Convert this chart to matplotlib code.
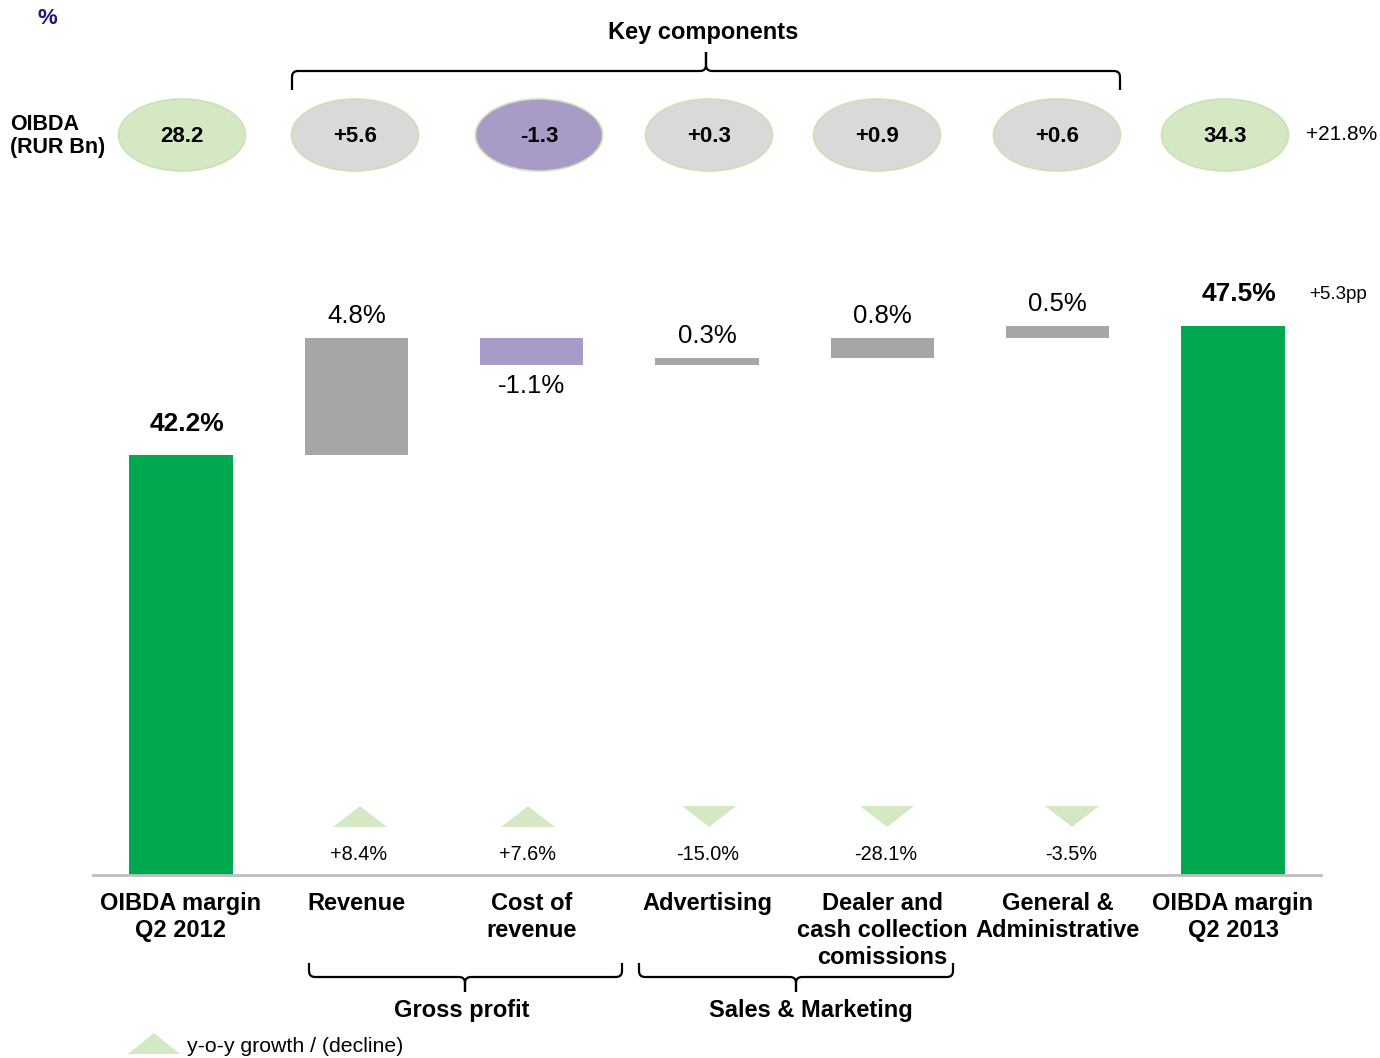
import matplotlib
matplotlib.use("Agg")
import matplotlib.pyplot as plt
import numpy as np
from matplotlib.patches import Ellipse, Polygon, PathPatch
from matplotlib.path import Path

plt.rcParams.update({
    "font.family": "sans-serif",
    "font.sans-serif": ["Liberation Sans", "DejaVu Sans"],
})

# ------------------------------------------------------------
# Data
# ------------------------------------------------------------
categories = [
    'OIBDA margin\nQ2 2012', 'Revenue', 'Cost of\nrevenue', 'Advertising',
    'Dealer and\ncash collection\ncomissions', 'General &\nAdministrative',
    'OIBDA margin\nQ2 2013'
]
margin_start = 42.2
margin_deltas = [4.8, -1.1, 0.3, 0.8, 0.5]
margin_end = 47.5
margin_change = '+5.3pp'

oibda = [28.2, 5.6, -1.3, 0.3, 0.9, 0.6, 34.3]
oibda_growth = '+21.8%'

yoy_growth = [8.4, 7.6, -15.0, -28.1, -3.5]

# ------------------------------------------------------------
# Colours
# ------------------------------------------------------------
GREEN = '#00a84f'
GREY = '#a6a6a6'
PURPLE = '#a99bc7'
LIGHT_GREEN = '#d5e8c4'
LIGHT_GREY = '#d9d9d9'

W, H = 1380, 1058
fig = plt.figure(figsize=(W / 100, H / 100), dpi=100)

# ------------------------------------------------------------
# Waterfall axes (the upper part of the scale is stretched so the
# small components stay readable)
# ------------------------------------------------------------
stretch = 2.44


def fwd(y):
    y = np.asarray(y, dtype=float)
    return np.where(y <= margin_start, y, margin_start + (y - margin_start) * stretch)


def inv(f):
    f = np.asarray(f, dtype=float)
    return np.where(f <= margin_start, f, margin_start + (f - margin_start) / stretch)


y_top = 50
px_unit = 420 / margin_start
ax_h = fwd(y_top) * px_unit
ax = fig.add_axes([93.3 / W, (H - 875) / H, 1227.4 / W, ax_h / H])
ax.set_yscale('function', functions=(fwd, inv))
ax.set_xlim(-0.5, 6.5)
ax.set_ylim(0, y_top)

x = np.arange(len(categories))
width = 0.59

# totals
ax.bar(x[0], margin_start, width, color=GREEN, zorder=2)
ax.bar(x[-1], margin_end, width, color=GREEN, zorder=2)
ax.annotate(f'{margin_start:.1f}%', (x[0], margin_start), xytext=(4, 22),
            textcoords='offset points', ha='center', va='center',
            fontsize=19, fontweight='bold')
ax.annotate(f'{margin_end:.1f}%', (x[-1], margin_end), xytext=(4, 23),
            textcoords='offset points', ha='center', va='center',
            fontsize=19, fontweight='bold')
ax.annotate(margin_change, (x[-1], margin_end), xytext=(55, 23),
            textcoords='offset points', ha='left', va='center', fontsize=13.5)

# components
level = margin_start
for i, d in enumerate(margin_deltas):
    xi = x[i + 1]
    bottom = level if d >= 0 else level + d
    ax.bar(xi, abs(d), width, bottom=bottom,
           color=GREY if d >= 0 else PURPLE, zorder=2)
    if d >= 0:
        ax.annotate(f'{d:.1f}%', (xi, level + d), xytext=(0, 16),
                    textcoords='offset points', ha='center', va='center',
                    fontsize=18.5)
    else:
        ax.annotate(f'{d:.1f}%', (xi, level + d), xytext=(0, -15),
                    textcoords='offset points', ha='center', va='center',
                    fontsize=18.5)
    level += d

ax.axhline(0, color='#bfbfbf', lw=2, zorder=3, clip_on=False)

ax.set_xticks(x)
ax.set_xticklabels(categories, fontsize=17, fontweight='bold')
for lab in ax.get_xticklabels():
    lab.set_linespacing(1.22)
ax.tick_params(axis='x', length=0, pad=12.5)
ax.set_yticks([])
ax.yaxis.set_minor_locator(matplotlib.ticker.NullLocator())
for s in ax.spines.values():
    s.set_visible(False)
ax.patch.set_alpha(0)

# ------------------------------------------------------------
# Overlay in pixel coordinates for ellipses, braces and markers
# ------------------------------------------------------------
deco = fig.add_axes([0, 0, 1, 1], zorder=5)
deco.set_xlim(0, W)
deco.set_ylim(H, 0)
deco.axis('off')
deco.patch.set_alpha(0)


def brace(x0, x1, xm, y, h_end, h_tip, r=6, down=True):
    # ends bend toward +s, the tip points toward -s (pixel y grows downward)
    s = 1 if down else -1
    verts = [
        (x0, y + s * h_end), (x0, y + s * r), (x0, y), (x0 + r, y),
        (xm - r, y), (xm, y), (xm, y - s * r), (xm, y - s * h_tip),
        (xm, y - s * r), (xm, y), (xm + r, y),
        (x1 - r, y), (x1, y), (x1, y + s * r), (x1, y + s * h_end),
    ]
    codes = [Path.MOVETO, Path.LINETO, Path.CURVE3, Path.CURVE3,
             Path.LINETO, Path.CURVE3, Path.CURVE3, Path.LINETO,
             Path.LINETO, Path.CURVE3, Path.CURVE3,
             Path.LINETO, Path.CURVE3, Path.CURVE3, Path.LINETO]
    deco.add_patch(PathPatch(Path(verts, codes), fill=False, lw=1.6,
                             edgecolor='black', capstyle='butt'))


deco.text(38, 19, '%', fontsize=16, fontweight='bold', color='#1a1a80',
          ha='left', va='center')
deco.text(703, 32, 'Key components', fontsize=17, fontweight='bold',
          ha='center', va='center')
brace(292, 1120, 706, 71, 19, 19, down=True)

deco.text(10, 136, 'OIBDA\n(RUR Bn)', fontsize=15.5, fontweight='bold',
          ha='left', va='center', linespacing=1.15)

ell_x = [182, 355, 539, 709, 877, 1057, 1225]
for i, (cx, v) in enumerate(zip(ell_x, oibda)):
    if i in (0, len(oibda) - 1):
        fc, txt = LIGHT_GREEN, f'{v:.1f}'
    else:
        fc = PURPLE if v < 0 else LIGHT_GREY
        txt = f'{v:+.1f}'
    deco.add_patch(Ellipse((cx, 135), 127, 72, facecolor=fc,
                           edgecolor='#c9e2b6', lw=1.2))
    deco.text(cx, 136, txt, fontsize=16, fontweight='bold',
              ha='center', va='center')
deco.text(1306, 134, oibda_growth, fontsize=15, ha='left', va='center')

# y-o-y growth markers
tri_x = [360, 528, 709, 887, 1072]
for cx, g in zip(tri_x, yoy_growth):
    if g >= 0:
        pts = [(cx - 27, 827), (cx + 27, 827), (cx, 806)]
    else:
        pts = [(cx - 27, 806), (cx + 27, 806), (cx, 827)]
    deco.add_patch(Polygon(pts, closed=True, facecolor=LIGHT_GREEN,
                           edgecolor='none'))
    deco.text(cx - 1, 855, f'{g:+.1f}%', fontsize=14.3, ha='center',
              va='center')

# bottom group braces
brace(309, 622, 465, 977, 14, 15, down=False)
deco.text(462, 1010, 'Gross profit', fontsize=17, fontweight='bold',
          ha='center', va='center')
brace(639, 953, 796, 977, 14, 15, down=False)
deco.text(811, 1010, 'Sales & Marketing', fontsize=17, fontweight='bold',
          ha='center', va='center')

# legend
deco.add_patch(Polygon([(128, 1054), (180, 1054), (154, 1033)], closed=True,
                       facecolor=LIGHT_GREEN, edgecolor='none'))
deco.text(187, 1046, 'y-o-y growth / (decline)', fontsize=15.3,
          ha='left', va='center')

fig.savefig('out.png', dpi=100)
